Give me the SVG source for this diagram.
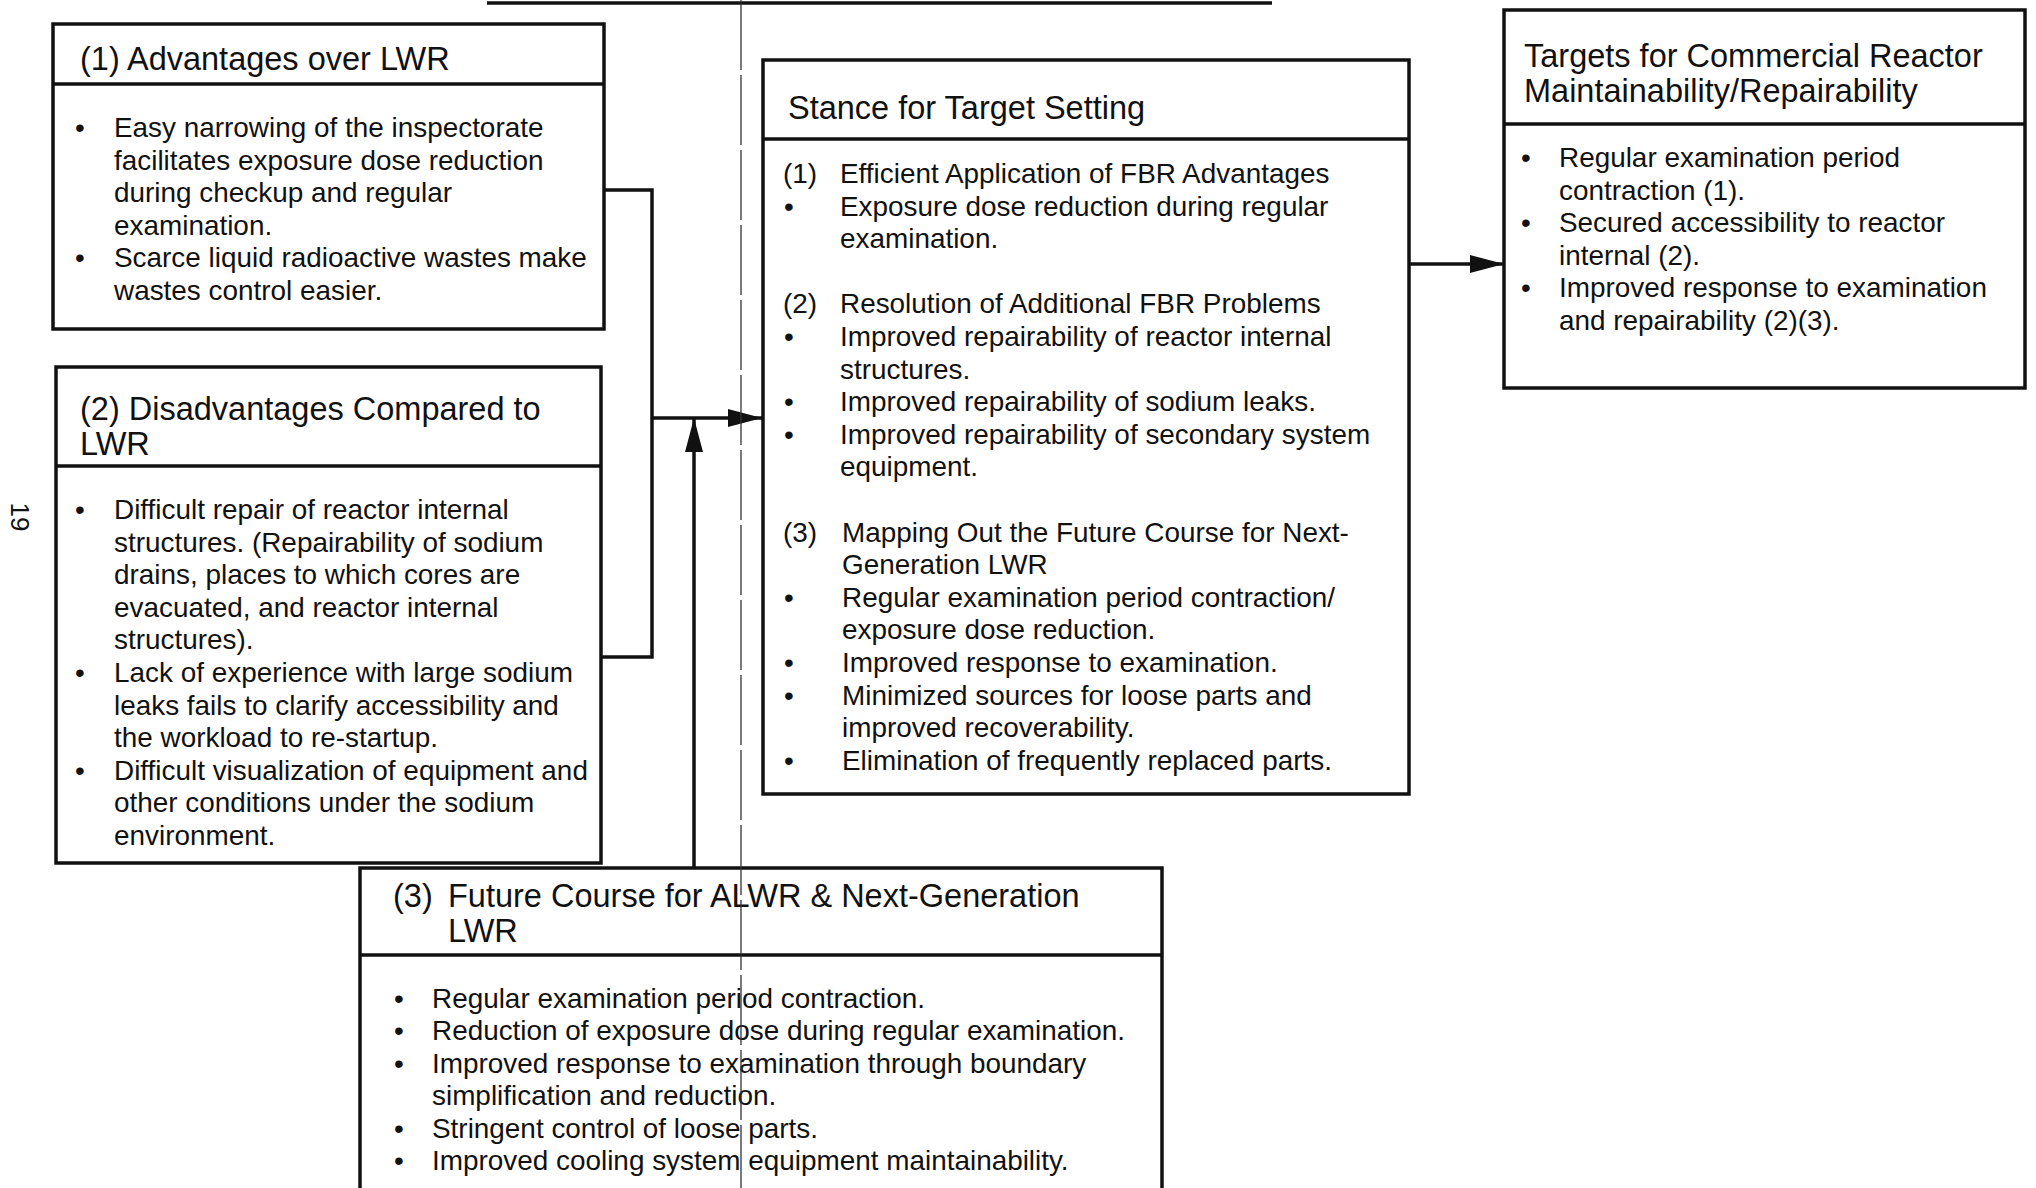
<svg xmlns="http://www.w3.org/2000/svg" width="2036" height="1188" viewBox="0 0 2036 1188">
<style>
text{font-family:"Liberation Sans",Arial,Helvetica,sans-serif;fill:#111}
.b{font-size:27.9px}
.h{font-size:32.5px}
.box{fill:#fff;stroke:#111;stroke-width:3.5}
.div{stroke:#111;stroke-width:3.5}
.con{fill:none;stroke:#111;stroke-width:3.5}
</style>
<defs>
<marker id="ah" markerUnits="userSpaceOnUse" markerWidth="36" markerHeight="20" refX="34" refY="10" orient="auto">
<path d="M0,1 L34,10 L0,19 z" fill="#111"/>
</marker>
</defs>
<rect width="2036" height="1188" fill="#fff"/>

<g id="page-number"><text class="b" transform="translate(11,517) rotate(90)" text-anchor="middle" style="font-size:26px">19</text></g>

<g id="advantages">
<rect class="box" x="53" y="24" width="551" height="305"/>
<line class="div" x1="53" y1="84" x2="604" y2="84"/>
<text class="h" x="80" y="70">(1) Advantages over LWR</text>
<text class="b" x="75" y="137">•</text><text class="b" x="114" y="137">Easy narrowing of the inspectorate</text>
<text class="b" x="114" y="170">facilitates exposure dose reduction</text>
<text class="b" x="114" y="202">during checkup and regular</text>
<text class="b" x="114" y="235">examination.</text>
<text class="b" x="75" y="267">•</text><text class="b" x="114" y="267">Scarce liquid radioactive wastes make</text>
<text class="b" x="114" y="300">wastes control easier.</text>
</g>

<g id="disadvantages">
<rect class="box" x="56" y="367" width="545" height="496"/>
<line class="div" x1="56" y1="466" x2="601" y2="466"/>
<text class="h" x="80" y="420">(2) Disadvantages Compared to</text>
<text class="h" x="80" y="455">LWR</text>
<text class="b" x="75" y="519">•</text><text class="b" x="114" y="519">Difficult repair of reactor internal</text>
<text class="b" x="114" y="552">structures. (Repairability of sodium</text>
<text class="b" x="114" y="584">drains, places to which cores are</text>
<text class="b" x="114" y="617">evacuated, and reactor internal</text>
<text class="b" x="114" y="649">structures).</text>
<text class="b" x="75" y="682">•</text><text class="b" x="114" y="682">Lack of experience with large sodium</text>
<text class="b" x="114" y="715">leaks fails to clarify accessibility and</text>
<text class="b" x="114" y="747">the workload to re-startup.</text>
<text class="b" x="75" y="780">•</text><text class="b" x="114" y="780">Difficult visualization of equipment and</text>
<text class="b" x="114" y="812">other conditions under the sodium</text>
<text class="b" x="114" y="845">environment.</text>
</g>

<g id="stance">
<rect class="box" x="763" y="60" width="646" height="734"/>
<line class="div" x1="763" y1="139" x2="1409" y2="139"/>
<text class="h" x="788" y="119">Stance for Target Setting</text>
<text class="b" x="783" y="183">(1)</text><text class="b" x="840" y="183">Efficient Application of FBR Advantages</text>
<text class="b" x="784" y="216">•</text><text class="b" x="840" y="216">Exposure dose reduction during regular</text>
<text class="b" x="840" y="248">examination.</text>
<text class="b" x="783" y="313">(2)</text><text class="b" x="840" y="313">Resolution of Additional FBR Problems</text>
<text class="b" x="784" y="346">•</text><text class="b" x="840" y="346">Improved repairability of reactor internal</text>
<text class="b" x="840" y="379">structures.</text>
<text class="b" x="784" y="411">•</text><text class="b" x="840" y="411">Improved repairability of sodium leaks.</text>
<text class="b" x="784" y="444">•</text><text class="b" x="840" y="444">Improved repairability of secondary system</text>
<text class="b" x="840" y="476">equipment.</text>
<text class="b" x="783" y="542">(3)</text><text class="b" x="842" y="542">Mapping Out the Future Course for Next-</text>
<text class="b" x="842" y="574">Generation LWR</text>
<text class="b" x="784" y="607">•</text><text class="b" x="842" y="607">Regular examination period contraction/</text>
<text class="b" x="842" y="639">exposure dose reduction.</text>
<text class="b" x="784" y="672">•</text><text class="b" x="842" y="672">Improved response to examination.</text>
<text class="b" x="784" y="705">•</text><text class="b" x="842" y="705">Minimized sources for loose parts and</text>
<text class="b" x="842" y="737">improved recoverability.</text>
<text class="b" x="784" y="770">•</text><text class="b" x="842" y="770">Elimination of frequently replaced parts.</text>
</g>

<g id="targets">
<rect class="box" x="1504" y="10" width="521" height="378"/>
<line class="div" x1="1504" y1="124" x2="2025" y2="124"/>
<text class="h" x="1524" y="67">Targets for Commercial Reactor</text>
<text class="h" x="1524" y="102">Maintainability/Repairability</text>
<text class="b" x="1521" y="167">•</text><text class="b" x="1559" y="167">Regular examination period</text>
<text class="b" x="1559" y="200">contraction (1).</text>
<text class="b" x="1521" y="232">•</text><text class="b" x="1559" y="232">Secured accessibility to reactor</text>
<text class="b" x="1559" y="265">internal (2).</text>
<text class="b" x="1521" y="297">•</text><text class="b" x="1559" y="297">Improved response to examination</text>
<text class="b" x="1559" y="330">and repairability (2)(3).</text>
</g>

<g id="future-course">
<rect class="box" x="360" y="868" width="802" height="340"/>
<line class="div" x1="360" y1="955" x2="1162" y2="955"/>
<text class="h" x="393" y="907">(3)</text><text class="h" x="448" y="907">Future Course for ALWR &amp; Next-Generation</text>
<text class="h" x="448" y="942">LWR</text>
<text class="b" x="394" y="1008">•</text><text class="b" x="432" y="1008">Regular examination period contraction.</text>
<text class="b" x="394" y="1040">•</text><text class="b" x="432" y="1040">Reduction of exposure dose during regular examination.</text>
<text class="b" x="394" y="1073">•</text><text class="b" x="432" y="1073">Improved response to examination through boundary</text>
<text class="b" x="432" y="1105">simplification and reduction.</text>
<text class="b" x="394" y="1138">•</text><text class="b" x="432" y="1138">Stringent control of loose parts.</text>
<text class="b" x="394" y="1170">•</text><text class="b" x="432" y="1170">Improved cooling system equipment maintainability.</text>
</g>

<g id="connectors">
<path class="con" d="M487,3 H1272"/>
<path class="con" d="M604,190 H652 V657 H601"/>
<path class="con" d="M652,418 H762" marker-end="url(#ah)"/>
<path class="con" d="M694,868 V418" marker-end="url(#ah)"/>
<path class="con" d="M1409,264 H1504" marker-end="url(#ah)"/>
</g>

<g id="crease"><line x1="741" y1="0" x2="741" y2="1188" stroke="#333" stroke-width="1.3" stroke-dasharray="70 5"/></g>
</svg>
